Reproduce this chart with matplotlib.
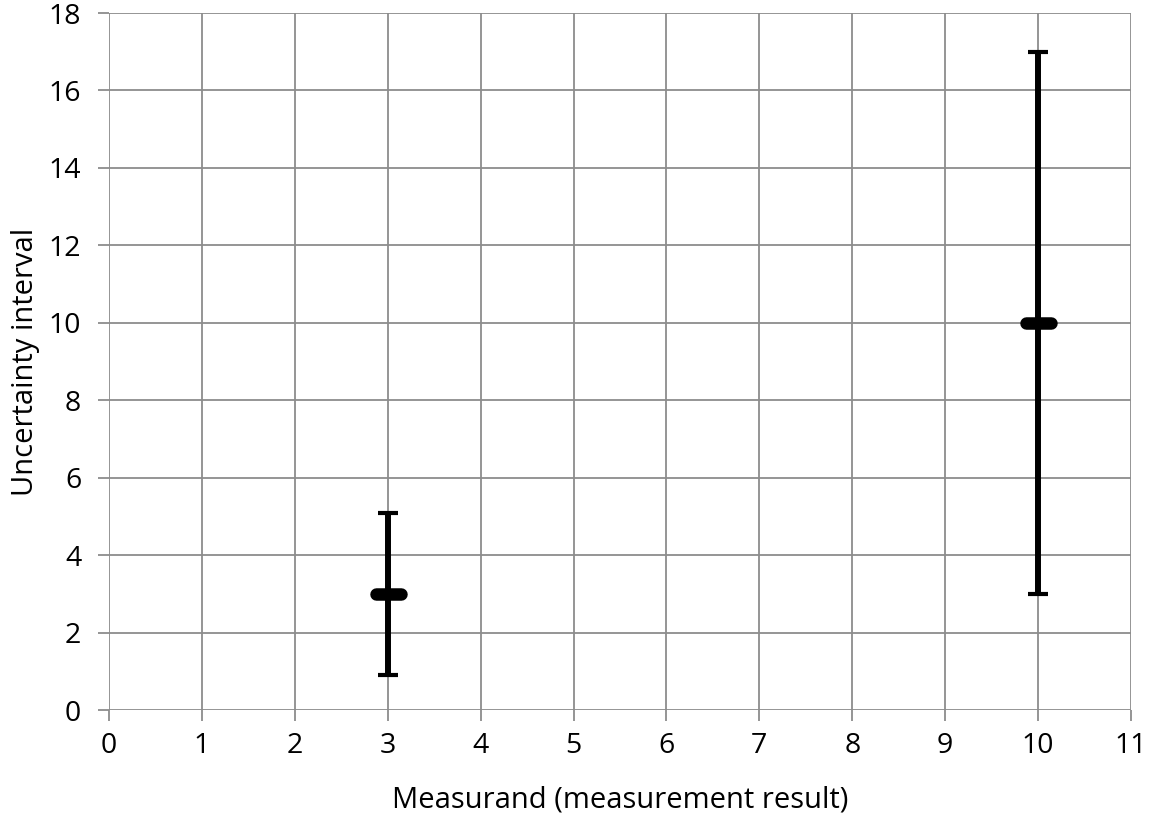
import matplotlib.pyplot as plt
from matplotlib.markers import MarkerStyle

# measurement results and their uncertainty half-widths
measurand = [3, 10]
result = [3, 10]
uncertainty = [2.1, 7]

xticks = list(range(0, 12))
yticks = list(range(0, 19, 2))

plt.rcParams['font.family'] = ['Open Sans', 'DejaVu Sans']

fig = plt.figure(figsize=(11.49, 8.23), dpi=100)
ax = fig.add_axes([0.0949, 0.1373, 0.8894, 0.8469])

ax.errorbar(measurand, result, yerr=uncertainty, fmt='none', ecolor='black',
            elinewidth=4.3, capsize=7, capthick=3, zorder=3)
ax.plot(measurand, result, linestyle='none', color='black',
        marker=MarkerStyle('_', capstyle='round'), markersize=18,
        markeredgewidth=9, zorder=4)

ax.set_xlim(0, 11)
ax.set_ylim(0, 18)
ax.set_xticks(xticks)
ax.set_yticks(yticks)
ax.grid(True, color='#8c8c8c', linewidth=1.3)
ax.set_axisbelow(True)
for s in ax.spines.values():
    s.set_visible(False)
ax.tick_params(axis='both', colors='#8c8c8c', labelcolor='black', labelsize=20.5,
               length=8, width=1.3)
ax.tick_params(axis='y', pad=12)
ax.tick_params(axis='x', pad=8)

ax.set_xlabel('Measurand (measurement result)', fontsize=21, labelpad=18)
ax.set_ylabel('Uncertainty interval', fontsize=21, labelpad=6)

fig.savefig('out.png', dpi=100)
